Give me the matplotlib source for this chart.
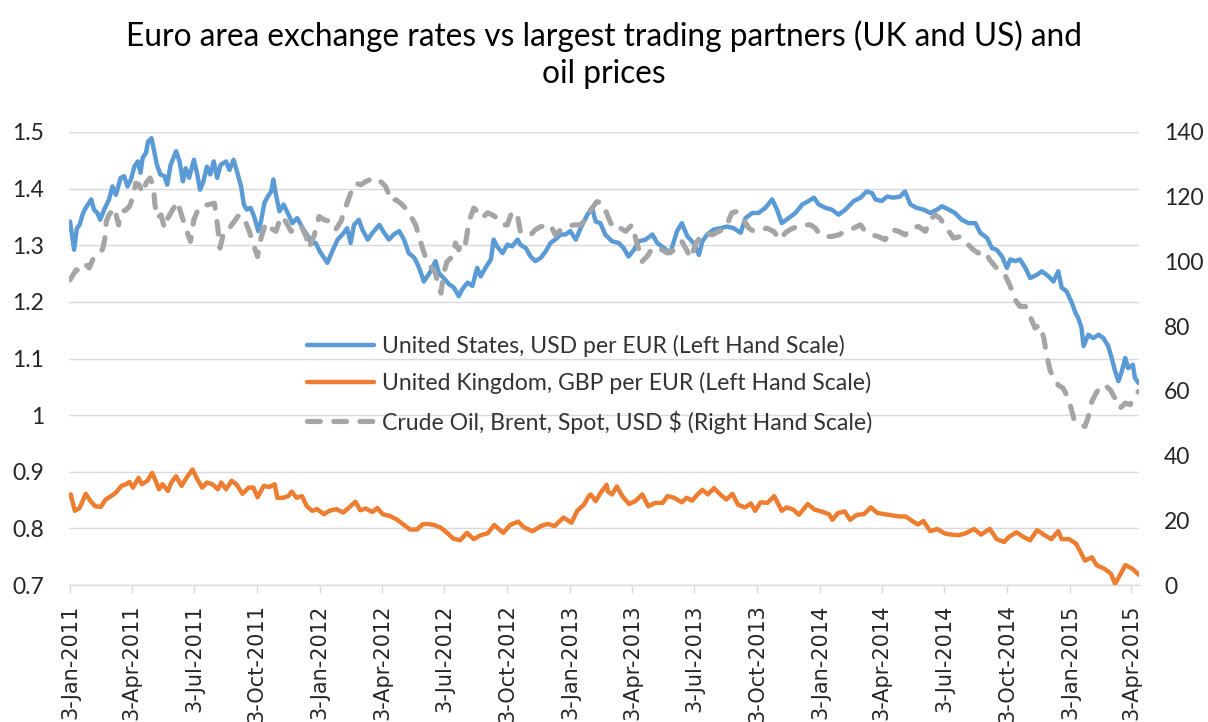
import matplotlib
matplotlib.use("Agg")
import matplotlib.pyplot as plt
import pandas as pd
from matplotlib.lines import Line2D
from matplotlib.ticker import FixedLocator, FuncFormatter

# ---------------- data ----------------
BASE_DATE = "2011-01-03"   # day offsets below are counted from this date

usd_days = [
    0, 6, 10, 14, 19, 23, 31, 35, 40, 44,
    50, 57, 62, 67, 74, 79, 84, 89, 94, 99,
    103, 106, 111, 114, 119, 122, 127, 132, 138, 142,
    147, 155, 160, 165, 169, 174, 181, 186, 190, 195,
    200, 205, 210, 215, 220, 228, 233, 239, 244, 250,
    254, 258, 264, 269, 275, 279, 284, 289, 294, 297,
    301, 306, 312, 318, 325, 332, 340, 346, 353, 359,
    365, 371, 376, 383, 391, 398, 405, 410, 415, 422,
    427, 435, 442, 452, 459, 466, 473, 481, 488, 495,
    503, 508, 512, 517, 522, 527, 534, 539, 546, 554,
    561, 568, 573, 581, 588, 595, 600, 607, 615, 619,
    624, 632, 639, 646, 654, 658, 666, 673, 680, 688,
    695, 702, 709, 717, 724, 731, 739, 746, 756, 763,
    768, 775, 782, 792, 802, 809, 816, 824, 831, 841,
    851, 858, 868, 877, 887, 894, 902, 911, 919, 924,
    931, 941, 950, 960, 970, 980, 987, 997, 1006, 1016,
    1026, 1033, 1040, 1050, 1060, 1070, 1079, 1087, 1094, 1104,
    1113, 1123, 1133, 1145, 1155, 1164, 1172, 1177, 1186, 1194,
    1203, 1213, 1220, 1228, 1237, 1247, 1257, 1267, 1274, 1284,
    1293, 1303, 1313, 1323, 1330, 1340, 1347, 1354, 1362, 1369,
    1374, 1381, 1388, 1396, 1403, 1413, 1420, 1430, 1437, 1444,
    1449, 1456, 1464, 1469, 1473, 1478, 1481, 1488, 1495, 1503,
    1510, 1517, 1522, 1527, 1532, 1537, 1542, 1546, 1553, 1556,
    1561,
]
usd_per_eur = [
    1.342, 1.292, 1.330, 1.336, 1.357, 1.366, 1.381, 1.363, 1.357, 1.345,
    1.363, 1.381, 1.404, 1.389, 1.419, 1.422, 1.404, 1.416, 1.439, 1.448,
    1.428, 1.454, 1.463, 1.483, 1.489, 1.472, 1.442, 1.425, 1.422, 1.407,
    1.442, 1.466, 1.448, 1.413, 1.436, 1.419, 1.451, 1.425, 1.398, 1.413,
    1.439, 1.425, 1.448, 1.419, 1.442, 1.448, 1.433, 1.451, 1.430, 1.404,
    1.372, 1.363, 1.366, 1.351, 1.325, 1.342, 1.375, 1.386, 1.395, 1.416,
    1.389, 1.360, 1.372, 1.357, 1.339, 1.348, 1.330, 1.319, 1.304, 1.304,
    1.289, 1.278, 1.269, 1.289, 1.310, 1.319, 1.330, 1.304, 1.336, 1.345,
    1.328, 1.310, 1.322, 1.336, 1.322, 1.310, 1.319, 1.325, 1.310, 1.286,
    1.278, 1.266, 1.254, 1.236, 1.245, 1.254, 1.272, 1.251, 1.242, 1.231,
    1.225, 1.210, 1.222, 1.234, 1.228, 1.260, 1.245, 1.260, 1.275, 1.310,
    1.298, 1.286, 1.301, 1.298, 1.310, 1.301, 1.295, 1.280, 1.272, 1.278,
    1.289, 1.304, 1.310, 1.319, 1.319, 1.325, 1.310, 1.330, 1.354, 1.366,
    1.342, 1.339, 1.319, 1.307, 1.304, 1.295, 1.280, 1.292, 1.307, 1.310,
    1.319, 1.304, 1.295, 1.286, 1.325, 1.339, 1.316, 1.304, 1.283, 1.307,
    1.319, 1.328, 1.330, 1.333, 1.330, 1.322, 1.348, 1.357, 1.357, 1.366,
    1.381, 1.363, 1.339, 1.348, 1.357, 1.372, 1.378, 1.384, 1.372, 1.366,
    1.363, 1.354, 1.363, 1.378, 1.384, 1.395, 1.392, 1.381, 1.378, 1.386,
    1.384, 1.386, 1.395, 1.372, 1.366, 1.363, 1.357, 1.363, 1.369, 1.363,
    1.357, 1.345, 1.339, 1.339, 1.322, 1.313, 1.295, 1.292, 1.280, 1.260,
    1.275, 1.272, 1.275, 1.260, 1.242, 1.248, 1.254, 1.245, 1.236, 1.254,
    1.225, 1.219, 1.198, 1.181, 1.172, 1.154, 1.122, 1.142, 1.136, 1.142,
    1.136, 1.122, 1.101, 1.078, 1.060, 1.078, 1.101, 1.083, 1.089, 1.066,
    1.057,
]

gbp_days = [
    1, 7, 14, 23, 30, 37, 45, 52, 60, 67,
    75, 82, 87, 92, 100, 105, 113, 120, 125, 130,
    135, 143, 148, 155, 163, 170, 179, 185, 193, 200,
    208, 216, 221, 228, 236, 243, 252, 261, 268, 274,
    283, 291, 299, 303, 311, 319, 324, 331, 339, 346,
    354, 361, 371, 379, 389, 399, 407, 417, 424, 432,
    442, 449, 457, 467, 477, 487, 497, 507, 515, 522,
    532, 542, 552, 560, 570, 580, 590, 600, 610, 620,
    633, 643, 655, 663, 676, 688, 698, 708, 721, 733,
    741, 751, 758, 761, 768, 776, 784, 786, 792, 799,
    807, 817, 827, 836, 845, 855, 866, 873, 883, 894,
    901, 909, 917, 924, 932, 941, 950, 959, 968, 976,
    986, 995, 1001, 1009, 1019, 1029, 1040, 1047, 1057, 1065,
    1078, 1088, 1098, 1109, 1114, 1122, 1132, 1140, 1150, 1160,
    1170, 1180, 1191, 1201, 1211, 1221, 1232, 1239, 1247, 1257,
    1267, 1278, 1288, 1298, 1308, 1321, 1331, 1344, 1354, 1365,
    1372, 1383, 1393, 1403, 1413, 1424, 1434, 1444, 1449, 1460,
    1470, 1478, 1483, 1493, 1500, 1511, 1521, 1527, 1534, 1542,
    1552, 1562,
]
gbp_per_eur = [
    0.860, 0.831, 0.836, 0.861, 0.848, 0.839, 0.838, 0.851, 0.857, 0.863,
    0.875, 0.878, 0.882, 0.872, 0.889, 0.878, 0.884, 0.898, 0.884, 0.869,
    0.878, 0.866, 0.881, 0.892, 0.875, 0.889, 0.904, 0.889, 0.872, 0.881,
    0.878, 0.869, 0.881, 0.869, 0.884, 0.878, 0.861, 0.872, 0.872, 0.855,
    0.875, 0.873, 0.878, 0.854, 0.854, 0.857, 0.865, 0.854, 0.857, 0.839,
    0.831, 0.834, 0.825, 0.831, 0.834, 0.828, 0.836, 0.847, 0.832, 0.835,
    0.829, 0.836, 0.825, 0.822, 0.816, 0.807, 0.798, 0.798, 0.807, 0.808,
    0.806, 0.801, 0.791, 0.782, 0.779, 0.792, 0.781, 0.788, 0.791, 0.806,
    0.792, 0.806, 0.812, 0.802, 0.795, 0.804, 0.808, 0.804, 0.819, 0.810,
    0.831, 0.842, 0.857, 0.860, 0.848, 0.864, 0.877, 0.865, 0.860, 0.874,
    0.857, 0.843, 0.849, 0.860, 0.839, 0.845, 0.845, 0.857, 0.854, 0.846,
    0.854, 0.849, 0.860, 0.868, 0.860, 0.871, 0.860, 0.851, 0.861, 0.842,
    0.837, 0.844, 0.831, 0.846, 0.845, 0.857, 0.831, 0.837, 0.833, 0.824,
    0.843, 0.833, 0.830, 0.825, 0.815, 0.827, 0.830, 0.815, 0.824, 0.825,
    0.837, 0.827, 0.825, 0.823, 0.821, 0.821, 0.812, 0.807, 0.813, 0.795,
    0.799, 0.791, 0.789, 0.788, 0.791, 0.799, 0.789, 0.799, 0.781, 0.776,
    0.785, 0.793, 0.785, 0.779, 0.797, 0.788, 0.781, 0.795, 0.781, 0.781,
    0.773, 0.755, 0.743, 0.749, 0.735, 0.729, 0.720, 0.702, 0.717, 0.735,
    0.729, 0.718,
]

oil_days = [
    0, 9, 16, 23, 28, 33, 38, 43, 48, 51,
    53, 57, 65, 71, 74, 82, 87, 92, 96, 101,
    106, 111, 117, 122, 124, 128, 133, 138, 143, 150,
    157, 162, 169, 176, 181, 186, 194, 201, 211, 216,
    219, 225, 233, 240, 247, 254, 262, 268, 274, 279,
    286, 293, 301, 308, 315, 323, 330, 337, 345, 349,
    357, 364, 371, 379, 388, 396, 403, 410, 417, 425,
    432, 439, 447, 454, 461, 466, 471, 476, 483, 490,
    498, 505, 510, 515, 520, 527, 534, 539, 542, 546,
    551, 559, 563, 568, 573, 578, 583, 590, 595, 602,
    610, 617, 624, 632, 639, 646, 654, 658, 666, 673,
    680, 688, 695, 702, 709, 717, 727, 736, 746, 753,
    761, 770, 778, 785, 790, 797, 804, 812, 821, 829,
    836, 843, 851, 858, 865, 873, 880, 887, 894, 902,
    907, 914, 921, 928, 938, 948, 958, 967, 975, 984,
    992, 999, 1009, 1018, 1028, 1038, 1045, 1052, 1062, 1072,
    1082, 1089, 1096, 1104, 1113, 1123, 1133, 1145, 1155, 1162,
    1172, 1181, 1191, 1201, 1211, 1220, 1230, 1240, 1250, 1257,
    1264, 1271, 1281, 1291, 1301, 1310, 1320, 1327, 1337, 1344,
    1352, 1359, 1366, 1374, 1381, 1388, 1396, 1403, 1410, 1417,
    1423, 1427, 1432, 1437, 1444, 1451, 1459, 1464, 1468, 1476,
    1483, 1488, 1493, 1498, 1505, 1512, 1520, 1527, 1534, 1542,
    1549, 1556, 1561,
]
oil_brent_usd = [
    94.3, 97.4, 96.9, 99.0, 98.0, 100.5, 101.5, 102.1, 104.1, 107.2,
    112.4, 114.4, 116.5, 111.3, 115.0, 116.0, 117.0, 120.1, 124.2, 123.7,
    121.1, 124.2, 125.8, 123.2, 117.5, 113.4, 114.4, 110.3, 113.4, 116.0,
    118.5, 115.0, 110.3, 106.2, 112.9, 115.5, 117.5, 117.5, 118.0, 110.3,
    104.1, 109.3, 110.3, 112.4, 114.4, 113.4, 109.3, 105.2, 101.5, 107.2,
    111.9, 110.3, 109.3, 113.9, 112.4, 109.3, 110.3, 111.3, 107.7, 104.1,
    108.2, 113.9, 112.9, 112.4, 109.8, 112.4, 117.0, 121.1, 124.2, 123.7,
    124.7, 125.3, 125.8, 124.7, 123.2, 120.6, 118.5, 119.1, 118.0, 116.5,
    113.9, 111.3, 107.7, 104.1, 101.0, 98.4, 96.4, 91.8, 90.2, 96.4,
    100.0, 101.5, 105.7, 103.6, 106.7, 105.7, 112.4, 116.5, 115.5, 113.4,
    115.0, 114.4, 113.4, 111.3, 111.3, 115.5, 113.9, 109.3, 109.3, 108.2,
    109.8, 110.8, 110.8, 111.3, 108.2, 109.8, 110.8, 111.3, 111.3, 112.9,
    116.0, 118.5, 118.0, 114.4, 111.9, 109.8, 110.3, 109.3, 111.3, 105.2,
    100.0, 101.5, 104.1, 104.1, 103.6, 102.6, 103.1, 104.6, 106.2, 103.1,
    101.0, 105.2, 107.7, 108.8, 108.2, 109.3, 110.3, 115.0, 115.5, 112.9,
    110.3, 109.3, 109.8, 110.3, 109.3, 106.7, 108.8, 109.8, 110.8, 111.3,
    111.3, 110.3, 108.2, 107.7, 107.7, 108.2, 109.3, 110.3, 111.3, 109.3,
    108.2, 107.7, 106.7, 109.8, 109.3, 108.2, 110.3, 110.8, 109.3, 112.9,
    114.4, 113.4, 110.3, 107.2, 107.7, 105.7, 103.6, 102.6, 103.1, 100.5,
    98.4, 96.9, 95.9, 92.3, 88.1, 86.1, 86.1, 83.0, 79.4, 80.4,
    76.3, 71.1, 66.5, 63.9, 61.8, 60.8, 57.7, 53.6, 50.5, 49.5,
    49.0, 52.0, 56.7, 58.8, 61.3, 61.8, 60.3, 57.7, 54.6, 56.2,
    55.7, 58.2, 59.8,
]

tick_dates = [
    "2011-01-03", "2011-04-03", "2011-07-03", "2011-10-03",
    "2012-01-03", "2012-04-03", "2012-07-03", "2012-10-03",
    "2013-01-03", "2013-04-03", "2013-07-03", "2013-10-03",
    "2014-01-03", "2014-04-03", "2014-07-03", "2014-10-03",
    "2015-01-03", "2015-04-03",
]
tick_labels = [
    "3-Jan-2011", "3-Apr-2011", "3-Jul-2011", "3-Oct-2011",
    "3-Jan-2012", "3-Apr-2012", "3-Jul-2012", "3-Oct-2012",
    "3-Jan-2013", "3-Apr-2013", "3-Jul-2013", "3-Oct-2013",
    "3-Jan-2014", "3-Apr-2014", "3-Jul-2014", "3-Oct-2014",
    "3-Jan-2015", "3-Apr-2015",
]
left_ticks = [0.7, 0.8, 0.9, 1.0, 1.1, 1.2, 1.3, 1.4, 1.5]
right_ticks = [0, 20, 40, 60, 80, 100, 120, 140]

title = ("Euro area exchange rates vs largest trading partners (UK and US) and\n"
         "oil prices")
label_usd = "United States, USD per EUR (Left Hand Scale)"
label_gbp = "United Kingdom, GBP per EUR (Left Hand Scale)"
label_oil = "Crude Oil, Brent, Spot, USD $ (Right Hand Scale)"

# ---------------- styling ----------------
C_USD = "#5B9BD5"
C_GBP = "#ED7D31"
C_OIL = "#A5A5A5"
C_GRID = "#D9D9D9"
C_TXT = "#262626"
FONT = ["Lato", "DejaVu Sans"]

base = pd.Timestamp(BASE_DATE)
def to_dates(days):
    return base + pd.to_timedelta(days, unit="D")

W, H, DPI = 1208, 722, 100
fig = plt.figure(figsize=(W / DPI, H / DPI), dpi=DPI)
fig.patch.set_facecolor("white")

L, R, B, T = 69, 1139, 585, 132
ax = fig.add_axes([L / W, 1 - B / H, (R - L) / W, (B - T) / H])
ax2 = ax.twinx()

line_kw = dict(solid_joinstyle="round", solid_capstyle="round")
ax.plot(to_dates(usd_days), usd_per_eur, color=C_USD, lw=3.2, **line_kw, zorder=3)
ax.plot(to_dates(gbp_days), gbp_per_eur, color=C_GBP, lw=3.2, **line_kw, zorder=3)
ax2.plot(to_dates(oil_days), oil_brent_usd, color=C_OIL, lw=3.7,
         linestyle=(0, (2.5, 2.6)), dash_capstyle="round", zorder=3)

ax.set_ylim(0.7, 1.5)
ax2.set_ylim(0, 140)
ax.set_xlim(base - pd.Timedelta(days=1.5), base + pd.Timedelta(days=1562))

# gridlines (left axis)
ax.yaxis.set_major_locator(FixedLocator(left_ticks))
ax.yaxis.set_major_formatter(FuncFormatter(lambda v, p: "%g" % round(v, 1)))
ax.grid(axis="y", color=C_GRID, lw=1.0, zorder=0)
ax.set_axisbelow(True)

ax2.yaxis.set_major_locator(FixedLocator(right_ticks))

# x ticks
ax.set_xticks(pd.to_datetime(tick_dates))
ax.set_xticklabels(tick_labels, rotation=90, fontsize=15, family="DejaVu Sans",
                   color=C_TXT, va="top", ha="center")
ax.tick_params(axis="x", direction="out", length=6, width=1.0, color=C_GRID, pad=8)

for a in (ax, ax2):
    for s in ("top", "left", "right", "bottom"):
        a.spines[s].set_visible(False)
ax.spines["bottom"].set_visible(True)
ax.spines["bottom"].set_color(C_GRID)
ax.spines["bottom"].set_linewidth(1.0)

ax.tick_params(axis="y", length=0, pad=18, labelsize=16.5, labelcolor=C_TXT)
ax2.tick_params(axis="y", length=0, pad=18, labelsize=16.5, labelcolor=C_TXT)
for lab in ax.get_yticklabels() + ax2.get_yticklabels():
    lab.set_family(FONT)

# legend
handles = [
    Line2D([], [], color=C_USD, lw=3.2, solid_capstyle="round"),
    Line2D([], [], color=C_GBP, lw=3.2, solid_capstyle="round"),
    Line2D([], [], color=C_OIL, lw=3.7, linestyle=(0, (2.5, 2.6)), dash_capstyle="round"),
]
leg = ax2.legend(handles, [label_usd, label_gbp, label_oil],
                 loc="center left", bbox_to_anchor=((307 - L) / (R - L), (B - 384) / (B - T)),
                 frameon=False, borderpad=0, borderaxespad=0, handlelength=2.9,
                 handletextpad=0.34, labelspacing=0.68,
                 prop={"family": FONT, "size": 16.6})
for t in leg.get_texts():
    t.set_color("#333333")

fig.text(0.5, 1 - 20 / H, title, ha="center", va="top", fontsize=22.8,
         family=FONT, color="#000000", linespacing=1.3)

fig.savefig("out.png", dpi=DPI, facecolor="white")
